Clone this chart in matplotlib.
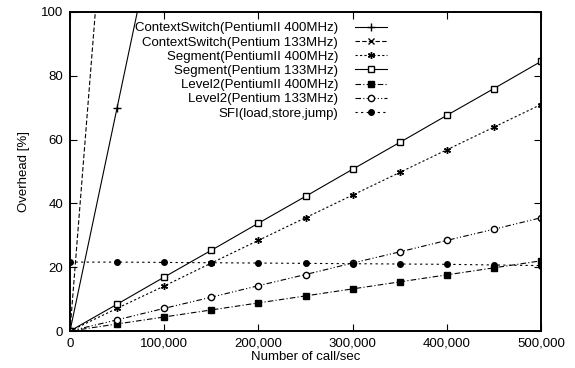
import numpy as np
import matplotlib
matplotlib.use("Agg")
import matplotlib.pyplot as plt
from matplotlib.ticker import FuncFormatter

plt.rcParams['font.family'] = ['Liberation Sans', 'DejaVu Sans']

# calls per second
calls = [0, 50000, 100000, 150000, 200000, 250000, 300000, 350000, 400000, 450000, 500000]
calls_cs = [0, 50000, 100000]

# overhead [%]
cs_p2_400 = [0, 70.0, 140.0]
cs_p_133 = [0, 186.0, 372.0]
seg_p2_400 = [0, 7.1, 14.1, 21.3, 28.4, 35.5, 42.6, 49.7, 56.8, 63.9, 71.0]
seg_p_133 = [0, 8.4, 16.9, 25.3, 33.8, 42.2, 50.7, 59.1, 67.6, 76.0, 84.5]
lv2_p2_400 = [0, 2.2, 4.4, 6.6, 8.8, 11.0, 13.2, 15.4, 17.6, 19.8, 22.0]
lv2_p_133 = [0, 3.5, 7.1, 10.6, 14.2, 17.7, 21.3, 24.8, 28.4, 31.9, 35.5]
sfi = [21.6, 21.6, 21.5, 21.4, 21.3, 21.2, 21.1, 21.0, 20.9, 20.7, 20.5]

labels = ['ContextSwitch(PentiumII 400MHz)', 'ContextSwitch(Pentium 133MHz)',
          'Segment(PentiumII 400MHz)', 'Segment(Pentium 133MHz)',
          'Level2(PentiumII 400MHz)', 'Level2(Pentium 133MHz)',
          'SFI(load,store,jump)']

fig = plt.figure(figsize=(5.75, 3.68), dpi=100)
ax = fig.add_axes([70 / 575, 37 / 368, 471 / 575, 319 / 368])

lw = 0.8
ax.plot(calls_cs, cs_p2_400, color='k', lw=lw, ls='-', marker='+', ms=6, label=labels[0])
ax.plot(calls_cs, cs_p_133, color='k', lw=lw, ls=(0, (4, 2)), marker='x', ms=4, label=labels[1])
ax.plot(calls, seg_p2_400, color='k', lw=lw, ls=(0, (2, 2)), marker=(6, 2, 0), ms=5, label=labels[2])
ax.plot(calls, seg_p_133, color='k', lw=lw, ls='-', marker='s', ms=4.5, mfc='white', label=labels[3])
ax.plot(calls, lv2_p2_400, color='k', lw=lw, ls=(0, (5, 2, 1, 2)), marker='s', ms=4, label=labels[4])
ax.plot(calls, lv2_p_133, color='k', lw=lw, ls=(0, (5, 2, 1, 2, 1, 2)), marker='o', ms=4.5, mfc='white', label=labels[5])
ax.plot(calls, sfi, color='k', lw=lw, ls=(0, (2, 3)), marker='o', ms=4, label=labels[6])

ax.set_xlim(0, 500000)
ax.set_ylim(0, 100)
ax.set_xticks(np.arange(0, 500001, 100000))
ax.set_yticks(np.arange(0, 101, 20))
ax.xaxis.set_major_formatter(FuncFormatter(lambda v, p: '{:,}'.format(int(v))))
ax.tick_params(direction='in', top=True, right=True, length=5, width=0.8, labelsize=9.5, pad=5)
for s in ax.spines.values():
    s.set_linewidth(1.4)

ax.set_xlabel('Number of call/sec', fontsize=9.5, labelpad=1)
ax.set_ylabel('Overhead [%]', fontsize=9.5, labelpad=8)

ax.legend(loc='upper right', bbox_to_anchor=(0.684, 0.985), frameon=False, markerfirst=False,
          fontsize=9.5, labelspacing=0.15, handlelength=2.4, handletextpad=1.3, borderaxespad=0)

fig.savefig('out.png', dpi=100)
